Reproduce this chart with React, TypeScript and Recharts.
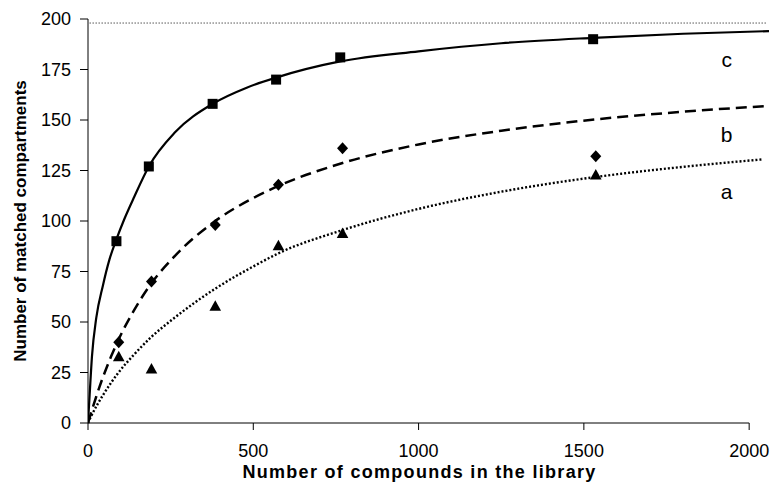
import React from 'react';
import { ComposedChart, Line, Scatter, XAxis, YAxis, ReferenceLine } from 'recharts';

const xTicks = [0, 500, 1000, 1500, 2000];
const yTicks = [0, 25, 50, 75, 100, 125, 150, 175, 200];

// measured points
const squareX = [86, 184, 377, 569, 763, 1528];
const squareY = [90, 127, 158, 170, 181, 190];
const diamondX = [93, 192, 385, 576, 770, 1536];
const diamondY = [40, 70, 98, 118, 136, 132];
const triangleX = [93, 192, 385, 576, 770, 1536];
const triangleY = [33, 27, 58, 88, 94, 123];

// fitted curves
const curveCX = [0, 5, 12, 25, 45, 65, 85, 110, 140, 184, 264, 377, 480, 569, 763, 1000, 1250, 1528, 1800, 2060];
const curveCY = [0, 14, 33, 52, 68, 81, 90.5, 101, 112, 127, 144, 158, 166, 171, 179, 184, 188, 190.7, 192.7, 194];
const curveBX = [0, 35, 70, 93, 140, 191, 261, 385, 500, 578, 770, 1000, 1250, 1536, 1800, 2060];
const curveBY = [0, 18, 33, 41.5, 56, 69, 82.4, 100, 111.4, 117.5, 128.7, 137.9, 144.7, 150.3, 154.1, 157];
const curveAX = [0, 10, 50, 90, 140, 191, 261, 385, 500, 576, 770, 1000, 1250, 1536, 1800, 2040];
const curveAY = [0, 3.5, 15, 24.5, 34, 42.5, 52, 66.5, 77.5, 84, 95.5, 106, 114.5, 121.8, 126.8, 130.5];

const labelNames = ['c', 'b', 'a'];
const labelX = [1932, 1932, 1932];
const labelY = [176, 139, 111];

const limitValue = 198;

const toPts = (xs: number[], ys: number[]) => xs.map((x, i) => ({ x, y: ys[i] }));
const curveC = toPts(curveCX, curveCY);
const curveB = toPts(curveBX, curveBY);
const curveA = toPts(curveAX, curveAY);
const squares = toPts(squareX, squareY);
const diamonds = toPts(diamondX, diamondY);
const triangles = toPts(triangleX, triangleY);
const labels = labelNames.map((name, i) => ({ x: labelX[i], y: labelY[i], name }));

const FONT = '"Liberation Sans", Arial, Helvetica, sans-serif';

const SquareShape = (p: any) => (
  <rect x={p.cx - 5} y={p.cy - 5} width={10} height={10} fill="#000" />
);
const DiamondShape = (p: any) => (
  <polygon
    points={`${p.cx},${p.cy - 6} ${p.cx + 5.5},${p.cy} ${p.cx},${p.cy + 6} ${p.cx - 5.5},${p.cy}`}
    fill="#000"
  />
);
const TriangleShape = (p: any) => (
  <polygon
    points={`${p.cx},${p.cy - 5.5} ${p.cx + 5.8},${p.cy + 5} ${p.cx - 5.8},${p.cy + 5}`}
    fill="#000"
  />
);
const LabelShape = (p: any) => (
  <text
    x={p.cx}
    y={p.cy}
    textAnchor="middle"
    fontFamily={FONT}
    fontSize={21}
    fill="#000"
  >
    {p.payload.name}
  </text>
);

export default function App() {
  return (
    <div style={{ position: 'absolute', left: 0, top: 0, background: '#fff' }}>
      <ComposedChart
        width={774}
        height={496}
        margin={{ top: 19, right: 5, bottom: 0, left: 0 }}
      >
        <XAxis
          type="number"
          dataKey="x"
          domain={[0, 2060]}
          ticks={xTicks}
          allowDataOverflow
          height={73}
          axisLine={false}
          tickLine={{ stroke: '#000', strokeWidth: 1 }}
          tickSize={7}
          tickMargin={14}
          tick={{ fill: '#000', fontSize: 18, fontFamily: FONT }}
          label={{
            value: 'Number of compounds in the library',
            position: 'insideBottom',
            offset: 18,
            dx: -9,
            style: { fontFamily: FONT, fontSize: 18, fontWeight: 'bold', fill: '#000', letterSpacing: 1.3 },
          }}
        />
        <YAxis
          type="number"
          dataKey="y"
          domain={[0, 200]}
          ticks={yTicks}
          width={88}
          axisLine={{ stroke: '#000', strokeWidth: 1 }}
          tickLine={{ stroke: '#000', strokeWidth: 1 }}
          tickSize={8}
          tickMargin={9}
          tick={{ fill: '#000', fontSize: 18, fontFamily: FONT }}
          label={{
            value: 'Number of matched compartments',
            angle: -90,
            position: 'center',
            dx: -24.5,
            style: { fontFamily: FONT, fontSize: 17, fontWeight: 'bold', fill: '#000', textAnchor: 'middle' },
          }}
        />
        <ReferenceLine
          segment={[{ x: 0, y: 0 }, { x: 2000, y: 0 }]}
          stroke="#000"
          strokeWidth={1}
          ifOverflow="visible"
        />
        <ReferenceLine
          segment={[{ x: 5, y: limitValue }, { x: 2050, y: limitValue }]}
          stroke="#000"
          strokeWidth={1}
          strokeDasharray="1 2"
          ifOverflow="visible"
        />
        <Line data={curveC} dataKey="y" type="monotone" stroke="#000" strokeWidth={2.2} dot={false} isAnimationActive={false} />
        <Line data={curveB} dataKey="y" type="monotone" stroke="#000" strokeWidth={2.5} strokeDasharray="11 6" dot={false} isAnimationActive={false} />
        <Line data={curveA} dataKey="y" type="monotone" stroke="#000" strokeWidth={2.4} strokeDasharray="2 2" dot={false} isAnimationActive={false} />
        <Scatter data={squares} dataKey="y" shape={SquareShape} isAnimationActive={false} />
        <Scatter data={diamonds} dataKey="y" shape={DiamondShape} isAnimationActive={false} />
        <Scatter data={triangles} dataKey="y" shape={TriangleShape} isAnimationActive={false} />
        <Scatter data={labels} dataKey="y" shape={LabelShape} isAnimationActive={false} />
      </ComposedChart>
    </div>
  );
}
